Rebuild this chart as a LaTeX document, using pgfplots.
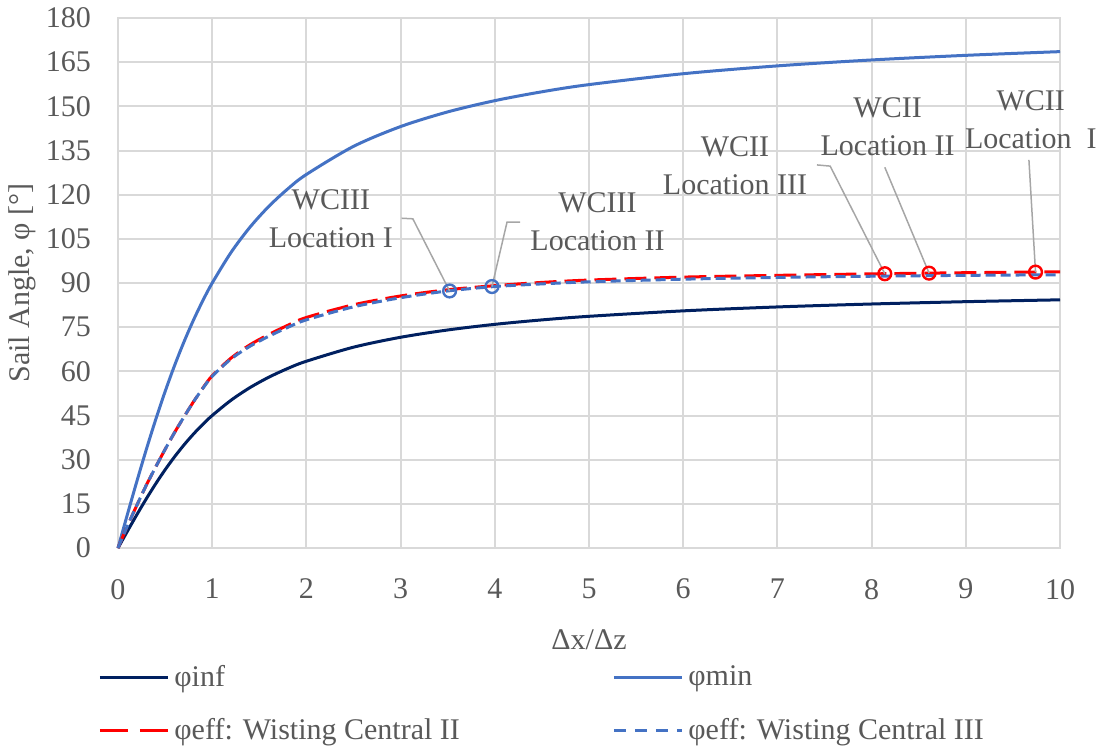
\documentclass[border=0pt]{standalone}
\usepackage{fontspec}
\setmainfont{Liberation Serif}
\usepackage{pgfplots}
\pgfplotsset{compat=1.18}
\definecolor{txt}{HTML}{595959}
\definecolor{gridc}{HTML}{D9D9D9}
\definecolor{navy}{HTML}{002060}
\definecolor{mblue}{HTML}{4472C4}
\definecolor{lead}{HTML}{A6A6A6}
\newcommand{\fs}{\fontsize{15}{19}\selectfont}
\begin{document}
\begin{tikzpicture}
\begin{axis}[name=ax, scale only axis, width=471pt, height=265pt,
 clip=false,
 xmin=0, xmax=10, ymin=0, ymax=180,
 xtick={0,1,...,10}, ytick={0,15,...,180},
 grid=major, major grid style={draw=gridc, line width=1pt},
 axis line style={draw=gridc, line width=1pt},
 major tick length=0pt,
 tick label style={font=\fs, text=txt},
 /pgf/number format/assume math mode=true,
 xticklabel style={yshift=-12pt},
 yticklabel style={xshift=-10pt},
 xlabel={Δx/Δz}, ylabel={Sail Angle, φ [°]},
 every axis x label/.style={at={(axis description cs:0.5,0)}, yshift=-46pt, anchor=center, font=\fs, text=txt},
 every axis y label/.style={at={(axis description cs:0,0.5)}, xshift=-48pt, rotate=90, anchor=center, font=\fs, text=txt},
 legend columns=2,
 legend style={at={(axis description cs:-0.0212,-0.213)}, anchor=north west, draw=none, fill=none, font=\fs, text=txt, row sep=10.5pt, column sep=0pt, inner sep=0pt,
   /tikz/every odd column/.style={column sep=0.5pt}},
 legend cell align=left,
 legend image code/.code={\draw[#1] (0pt,0pt) -- (34pt,0pt);},
]
\addplot[navy, line width=1.5pt, smooth] coordinates {
(0,0) (0.1,5.71) (0.2,11.31) (0.3,16.70) (0.4,21.80) (0.5,26.57) (0.6,30.96) (0.7,34.99) (0.8,38.66) (0.9,41.99) (1.0,45.00) (1.2,50.19) (1.4,54.46) (1.6,57.99) (1.8,60.95) (2.0,63.43) (2.5,68.20) (3.0,71.57) (3.5,74.05) (4.0,75.96) (4.5,77.47) (5,78.69) (6,80.54) (7,81.87) (8,82.87) (9,83.66) (10,84.29)};
\addlegendentry{\makebox[217pt][l]{φinf}}
\addplot[mblue, line width=1.5pt, smooth] coordinates {
(0,0) (0.1,11.42) (0.2,22.62) (0.3,33.40) (0.4,43.60) (0.5,53.13) (0.6,61.93) (0.7,69.98) (0.8,77.32) (0.9,83.98) (1.0,90.00) (1.2,100.39) (1.4,108.92) (1.6,115.99) (1.8,121.90) (2.0,126.87) (2.5,136.40) (3.0,143.13) (3.5,148.11) (4.0,151.93) (4.5,154.94) (5,157.38) (6,161.08) (7,163.74) (8,165.75) (9,167.32) (10,168.58)};
\addlegendentry{φmin}
\addplot[red, line width=1.5pt, dash pattern=on 11pt off 4pt, smooth, legend image post style={dash pattern=on 14pt off 6pt}] coordinates {
(0,0) (0.1,7.5) (0.2,14.5) (0.3,21.3) (0.4,27.5) (0.5,33.5) (0.6,39.2) (0.7,44.5) (0.8,49.6) (0.9,54.3) (1.0,58.5) (1.2,64.5) (1.4,69.0) (1.6,72.5) (1.8,75.6) (2.0,78.3) (2.5,82.6) (3.0,85.6) (3.5,87.7) (4.0,89.1) (4.5,90.2) (5,91.0) (6,92.0) (7,92.6) (8,93.1) (9,93.5) (10,93.8)};
\addlegendentry{\makebox[217pt][l]{φeff: Wisting Central II}}
\addplot[mblue, line width=1.5pt, dash pattern=on 5pt off 2.5pt, smooth, legend image post style={dash pattern=on 6pt off 4.5pt}] coordinates {
(0,0) (0.1,7.5) (0.2,14.5) (0.3,21.3) (0.4,27.5) (0.5,33.5) (0.6,39.2) (0.7,44.5) (0.8,49.6) (0.9,54.2) (1.0,58.3) (1.2,64.2) (1.4,68.5) (1.6,71.9) (1.8,74.9) (2.0,77.5) (2.5,81.9) (3.0,85.0) (3.5,87.3) (4.0,88.8) (4.5,89.7) (5,90.4) (6,91.3) (7,91.9) (8,92.3) (9,92.6) (10,92.8)};
\addlegendentry{φeff: Wisting Central III}
% leader lines
\addplot[lead, line width=0.75pt, forget plot] coordinates {(3.01,112.0) (3.13,111.8) (3.52,87.3)};
\addplot[lead, line width=0.75pt, forget plot] coordinates {(3.97,88.8) (4.13,110.7) (4.27,110.7)};
\addplot[lead, line width=0.75pt, forget plot] coordinates {(7.42,130.1) (7.56,129.7) (8.14,93.15)};
\addplot[lead, line width=0.75pt, forget plot] coordinates {(8.14,129.3) (8.61,93.35)};
\addplot[lead, line width=0.75pt, forget plot] coordinates {(9.67,131.8) (9.74,93.7)};
% markers
\addplot[only marks, mark=o, mark size=3.2pt, mark options={draw=mblue, fill=white, line width=1.2pt, solid}, forget plot] coordinates {(3.52,87.3) (3.97,88.8)};
\addplot[only marks, mark=o, mark size=3.2pt, mark options={draw=red, fill=white, line width=1.2pt, solid}, forget plot] coordinates {(8.14,93.15) (8.61,93.35) (9.74,93.7)};
% annotation text
\node[font=\fs, text=txt, align=center] at (axis cs:2.26,111.7) {WCIII\\Location I};
\node[font=\fs, text=txt, align=center] at (axis cs:5.09,110.9) {WCIII\\Location II};
\node[font=\fs, text=txt, align=center] at (axis cs:6.55,129.8) {WCII\\Location III};
\node[font=\fs, text=txt, align=center] at (axis cs:8.17,143.2) {WCII\\Location II};
\node[font=\fs, text=txt, align=center] at (axis cs:9.69,145.5) {WCII\\Location\ \ I};
\end{axis}
\pgfresetboundingbox
\path ([xshift=-59pt,yshift=-98.5pt]ax.south west) rectangle ([xshift=23pt,yshift=9pt]ax.north east);
\end{tikzpicture}
\end{document}
